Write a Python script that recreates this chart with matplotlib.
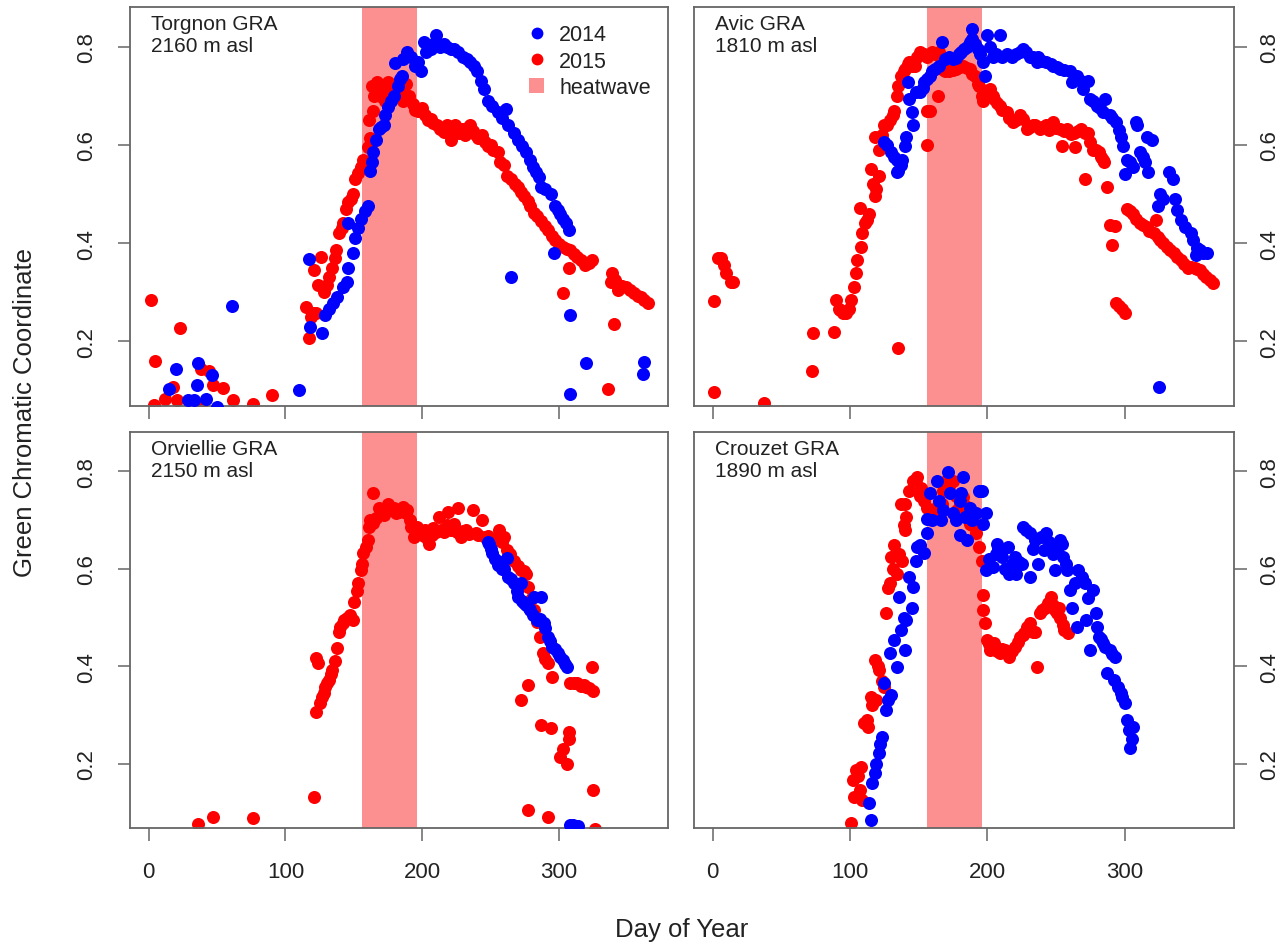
import matplotlib
matplotlib.use('Agg')
import matplotlib.pyplot as plt
import numpy as np
from matplotlib.lines import Line2D
from matplotlib.patches import Patch

plt.rcParams['font.family'] = ['Liberation Sans', 'DejaVu Sans']

# heatwave window (day of year)
heat_start, heat_end = 156, 196

sites = ['Torgnon GRA', 'Avic GRA', 'Orviellie GRA', 'Crouzet GRA']
elevations = ['2160 m asl', '1810 m asl', '2150 m asl', '1890 m asl']

x_ticks = [0, 100, 200, 300]
y_ticks = [0.2, 0.4, 0.6, 0.8]

# (day of year, GCC) pairs
torgnon_2014 = [
    (15, 0.103), (20, 0.144), (29, 0.080), (33, 0.080), (35, 0.110), (36, 0.155),
    (42, 0.083), (46, 0.132), (50, 0.066), (61, 0.271), (110, 0.100), (117, 0.368),
    (118, 0.228), (127, 0.216), (129, 0.253), (132, 0.265), (135, 0.277), (138, 0.290),
    (142, 0.310), (145, 0.320), (146, 0.350), (146, 0.440), (149, 0.380), (151, 0.410),
    (153, 0.430), (155, 0.450), (158, 0.465), (160, 0.475), (162, 0.546), (163, 0.565),
    (164, 0.585), (166, 0.610), (168, 0.632), (170, 0.636), (172, 0.640), (173, 0.660),
    (175, 0.677), (177, 0.690), (179, 0.700), (180, 0.766), (182, 0.720), (184, 0.735),
    (185, 0.740), (186, 0.775), (189, 0.790), (192, 0.780), (195, 0.760), (197, 0.770),
    (199, 0.750), (201, 0.810), (203, 0.790), (206, 0.796), (208, 0.805), (210, 0.823),
    (213, 0.800), (216, 0.805), (218, 0.800), (221, 0.795), (223, 0.796), (226, 0.790),
    (230, 0.780), (233, 0.775), (235, 0.770), (238, 0.760), (240, 0.750), (243, 0.730),
    (245, 0.714), (248, 0.690), (251, 0.680), (255, 0.667), (258, 0.655), (261, 0.673),
    (263, 0.640), (265, 0.330), (267, 0.625), (270, 0.610), (273, 0.598), (276, 0.585),
    (279, 0.570), (281, 0.556), (283, 0.545), (285, 0.535), (287, 0.515), (290, 0.510),
    (294, 0.500), (296, 0.380), (297, 0.475), (299, 0.468), (301, 0.460), (303, 0.450),
    (305, 0.440), (307, 0.427), (308, 0.253), (308, 0.093), (320, 0.155), (361, 0.134),
    (362, 0.157),
]
torgnon_2015 = [
    (2, 0.285), (4, 0.070), (5, 0.160), (12, 0.083), (18, 0.107), (21, 0.080),
    (23, 0.226), (38, 0.144), (38, 0.066), (44, 0.140), (47, 0.110), (54, 0.105),
    (62, 0.080), (76, 0.073), (90, 0.090), (115, 0.270), (117, 0.206), (119, 0.250),
    (120, 0.257), (121, 0.345), (122, 0.257), (124, 0.315), (126, 0.372), (128, 0.300),
    (130, 0.315), (132, 0.330), (134, 0.350), (136, 0.370), (137, 0.386), (139, 0.420),
    (141, 0.430), (142, 0.440), (144, 0.470), (146, 0.484), (148, 0.490), (149, 0.500),
    (151, 0.530), (153, 0.543), (155, 0.555), (157, 0.570), (160, 0.595), (161, 0.650),
    (162, 0.615), (163, 0.720), (164, 0.670), (165, 0.700), (167, 0.728), (169, 0.700),
    (171, 0.714), (173, 0.690), (175, 0.728), (177, 0.700), (179, 0.720), (182, 0.705),
    (184, 0.710), (186, 0.690), (188, 0.724), (190, 0.700), (193, 0.683), (195, 0.672),
    (197, 0.670), (200, 0.675), (202, 0.660), (204, 0.650), (206, 0.652), (208, 0.645),
    (211, 0.640), (213, 0.632), (216, 0.626), (218, 0.640), (221, 0.610), (222, 0.620),
    (224, 0.640), (227, 0.625), (229, 0.632), (231, 0.620), (233, 0.635), (235, 0.640),
    (237, 0.628), (239, 0.620), (241, 0.615), (244, 0.620), (246, 0.605), (248, 0.597),
    (250, 0.600), (252, 0.590), (255, 0.585), (257, 0.565), (260, 0.560), (262, 0.536),
    (265, 0.530), (268, 0.520), (270, 0.515), (272, 0.505), (274, 0.495), (277, 0.485),
    (279, 0.475), (282, 0.462), (284, 0.455), (287, 0.445), (290, 0.435), (292, 0.427),
    (295, 0.415), (297, 0.407), (300, 0.398), (303, 0.392), (303, 0.298), (306, 0.388),
    (307, 0.350), (308, 0.386), (311, 0.378), (313, 0.372), (316, 0.365), (319, 0.355),
    (322, 0.360), (324, 0.365), (336, 0.103), (338, 0.320), (339, 0.340), (340, 0.235),
    (341, 0.325), (343, 0.304), (346, 0.312), (349, 0.310), (352, 0.305), (355, 0.298),
    (358, 0.292), (360, 0.290), (362, 0.285), (365, 0.277),
]

avic_2014 = [
    (125, 0.605), (127, 0.600), (130, 0.585), (132, 0.575), (134, 0.570), (134, 0.544),
    (135, 0.546), (137, 0.560), (138, 0.570), (140, 0.597), (141, 0.617), (142, 0.728),
    (143, 0.693), (145, 0.667), (146, 0.640), (148, 0.708), (151, 0.708), (153, 0.715),
    (154, 0.728), (156, 0.735), (158, 0.740), (160, 0.750), (162, 0.755), (165, 0.760),
    (167, 0.810), (169, 0.775), (172, 0.780), (175, 0.775), (177, 0.778), (179, 0.785),
    (181, 0.790), (183, 0.795), (185, 0.800), (187, 0.810), (189, 0.837), (189, 0.816),
    (191, 0.805), (193, 0.796), (195, 0.785), (197, 0.770), (198, 0.740), (200, 0.823),
    (202, 0.800), (204, 0.780), (206, 0.785), (209, 0.823), (211, 0.780), (214, 0.785),
    (218, 0.780), (221, 0.785), (224, 0.790), (226, 0.796), (228, 0.790), (231, 0.780),
    (233, 0.780), (236, 0.770), (237, 0.780), (240, 0.772), (243, 0.770), (246, 0.765),
    (248, 0.760), (251, 0.758), (253, 0.755), (256, 0.752), (260, 0.750), (262, 0.728),
    (265, 0.740), (268, 0.730), (270, 0.714), (273, 0.730), (275, 0.694), (277, 0.690),
    (280, 0.680), (282, 0.675), (284, 0.667), (286, 0.694), (289, 0.660), (291, 0.655),
    (294, 0.646), (296, 0.630), (297, 0.617), (299, 0.597), (300, 0.540), (302, 0.570),
    (304, 0.565), (306, 0.556), (308, 0.646), (309, 0.640), (311, 0.585), (313, 0.575),
    (315, 0.565), (316, 0.617), (317, 0.544), (320, 0.610), (324, 0.475), (325, 0.107),
    (326, 0.500), (328, 0.490), (332, 0.544), (335, 0.530), (337, 0.490), (338, 0.467),
    (341, 0.447), (344, 0.433), (348, 0.420), (350, 0.407), (352, 0.375), (353, 0.390),
    (355, 0.385), (357, 0.380), (360, 0.380),
]
avic_2015 = [
    (1, 0.097), (1, 0.282), (4, 0.370), (6, 0.370), (8, 0.355), (10, 0.340),
    (13, 0.320), (15, 0.320), (37, 0.075), (72, 0.140), (73, 0.216), (88, 0.218),
    (90, 0.284), (92, 0.265), (93, 0.263), (95, 0.258), (97, 0.257), (99, 0.265),
    (101, 0.284), (103, 0.310), (104, 0.340), (105, 0.365), (107, 0.472), (108, 0.392),
    (109, 0.420), (111, 0.440), (112, 0.447), (114, 0.460), (115, 0.550), (117, 0.520),
    (118, 0.495), (118, 0.617), (119, 0.510), (121, 0.536), (121, 0.590), (123, 0.620),
    (125, 0.640), (127, 0.640), (129, 0.650), (131, 0.660), (132, 0.670), (134, 0.700),
    (135, 0.720), (135, 0.187), (137, 0.740), (139, 0.750), (140, 0.755), (142, 0.765),
    (143, 0.770), (145, 0.760), (147, 0.760), (149, 0.780), (151, 0.790), (154, 0.785),
    (156, 0.780), (156, 0.670), (156, 0.600), (158, 0.670), (160, 0.790), (162, 0.785),
    (164, 0.700), (165, 0.790), (167, 0.755), (169, 0.750), (172, 0.750), (175, 0.752),
    (177, 0.755), (180, 0.758), (182, 0.760), (185, 0.757), (187, 0.755), (189, 0.745),
    (191, 0.740), (193, 0.725), (194, 0.720), (196, 0.700), (197, 0.690), (199, 0.705),
    (202, 0.714), (204, 0.700), (205, 0.694), (207, 0.685), (209, 0.680), (211, 0.672),
    (214, 0.667), (216, 0.655), (219, 0.646), (221, 0.650), (224, 0.660), (226, 0.652),
    (229, 0.632), (231, 0.636), (233, 0.640), (235, 0.640), (238, 0.632), (240, 0.636),
    (243, 0.640), (245, 0.630), (248, 0.646), (250, 0.635), (253, 0.632), (254, 0.597),
    (256, 0.628), (258, 0.632), (261, 0.622), (263, 0.625), (264, 0.595), (266, 0.628),
    (268, 0.632), (271, 0.530), (271, 0.625), (273, 0.625), (275, 0.605), (277, 0.590),
    (279, 0.590), (281, 0.585), (283, 0.575), (284, 0.570), (285, 0.565), (287, 0.515),
    (289, 0.437), (291, 0.396), (293, 0.435), (294, 0.277), (296, 0.272), (298, 0.265),
    (300, 0.257), (302, 0.470), (304, 0.465), (306, 0.460), (308, 0.450), (311, 0.440),
    (313, 0.437), (316, 0.433), (318, 0.425), (321, 0.420), (323, 0.447), (324, 0.412),
    (326, 0.407), (328, 0.400), (331, 0.392), (333, 0.386), (336, 0.380), (338, 0.372),
    (341, 0.365), (343, 0.358), (346, 0.350), (348, 0.352), (351, 0.350), (353, 0.347),
    (355, 0.345), (357, 0.337), (359, 0.330), (362, 0.325), (364, 0.318),
]

orviellie_2014 = [
    (248, 0.655), (249, 0.652), (250, 0.640), (251, 0.632), (253, 0.620), (255, 0.607),
    (257, 0.615), (258, 0.600), (260, 0.600), (262, 0.622), (263, 0.583), (265, 0.580),
    (267, 0.570), (269, 0.555), (270, 0.542), (272, 0.570), (273, 0.535), (274, 0.530),
    (276, 0.525), (278, 0.520), (279, 0.515), (281, 0.505), (282, 0.542), (284, 0.495),
    (286, 0.498), (287, 0.542), (289, 0.488), (290, 0.478), (292, 0.460), (293, 0.452),
    (295, 0.440), (297, 0.435), (299, 0.427), (301, 0.420), (303, 0.413), (304, 0.405),
    (306, 0.398), (308, 0.075), (310, 0.075), (312, 0.073), (314, 0.072),
]
orviellie_2015 = [
    (36, 0.077), (47, 0.090), (76, 0.089), (121, 0.132), (122, 0.306), (122, 0.417),
    (124, 0.407), (125, 0.325), (127, 0.337), (128, 0.345), (129, 0.357), (130, 0.365),
    (132, 0.372), (133, 0.385), (134, 0.392), (136, 0.410), (138, 0.437), (139, 0.470),
    (140, 0.480), (142, 0.488), (143, 0.495), (145, 0.500), (147, 0.505), (149, 0.495),
    (150, 0.532), (152, 0.555), (153, 0.570), (155, 0.597), (156, 0.610), (157, 0.632),
    (159, 0.645), (160, 0.659), (161, 0.685), (162, 0.700), (164, 0.755), (164, 0.695),
    (166, 0.705), (168, 0.724), (170, 0.715), (172, 0.710), (174, 0.725), (175, 0.734),
    (177, 0.720), (179, 0.724), (181, 0.715), (183, 0.716), (185, 0.720), (186, 0.726),
    (188, 0.715), (189, 0.720), (191, 0.700), (192, 0.685), (194, 0.665), (196, 0.685),
    (197, 0.672), (199, 0.673), (201, 0.668), (202, 0.680), (204, 0.660), (205, 0.652),
    (207, 0.670), (208, 0.683), (210, 0.675), (212, 0.706), (214, 0.680), (216, 0.675),
    (218, 0.690), (219, 0.716), (221, 0.680), (223, 0.693), (225, 0.675), (226, 0.724),
    (228, 0.665), (230, 0.678), (232, 0.680), (234, 0.672), (237, 0.720), (239, 0.673),
    (241, 0.670), (244, 0.700), (246, 0.665), (248, 0.668), (250, 0.662), (253, 0.660),
    (256, 0.680), (258, 0.655), (260, 0.665), (262, 0.638), (264, 0.630), (267, 0.617),
    (270, 0.605), (272, 0.597), (272, 0.330), (274, 0.595), (276, 0.590), (277, 0.562),
    (277, 0.362), (277, 0.105), (280, 0.540), (282, 0.515), (284, 0.490), (286, 0.460),
    (287, 0.280), (288, 0.427), (290, 0.415), (292, 0.407), (292, 0.090), (294, 0.273),
    (295, 0.378), (301, 0.214), (303, 0.230), (306, 0.200), (307, 0.265), (307, 0.250),
    (308, 0.365), (311, 0.365), (313, 0.365), (316, 0.360), (318, 0.362), (320, 0.358),
    (322, 0.355), (324, 0.398), (325, 0.146), (325, 0.350), (326, 0.066),
]

crouzet_2014 = [
    (114, 0.120), (115, 0.085), (116, 0.160), (118, 0.180), (119, 0.200), (121, 0.222),
    (122, 0.240), (123, 0.255), (125, 0.366), (126, 0.310), (128, 0.330), (129, 0.427),
    (130, 0.340), (132, 0.454), (134, 0.398), (136, 0.542), (137, 0.474), (139, 0.500),
    (140, 0.433), (141, 0.495), (143, 0.583), (145, 0.520), (146, 0.562), (148, 0.617),
    (149, 0.644), (151, 0.650), (154, 0.632), (156, 0.673), (156, 0.703), (158, 0.755),
    (160, 0.700), (163, 0.780), (165, 0.740), (166, 0.700), (168, 0.720), (171, 0.798),
    (173, 0.755), (175, 0.714), (177, 0.700), (180, 0.740), (180, 0.670), (181, 0.755),
    (182, 0.788), (184, 0.706), (185, 0.660), (187, 0.724), (189, 0.700), (192, 0.714),
    (194, 0.760), (196, 0.760), (197, 0.693), (199, 0.714), (199, 0.597), (201, 0.620),
    (204, 0.604), (206, 0.630), (207, 0.652), (208, 0.640), (211, 0.624), (213, 0.600),
    (215, 0.644), (216, 0.590), (218, 0.610), (220, 0.624), (221, 0.590), (223, 0.615),
    (225, 0.610), (226, 0.685), (228, 0.680), (231, 0.673), (231, 0.583), (233, 0.640),
    (235, 0.659), (237, 0.610), (239, 0.665), (241, 0.638), (243, 0.673), (245, 0.655),
    (246, 0.644), (248, 0.630), (249, 0.597), (251, 0.638), (253, 0.660), (254, 0.652),
    (255, 0.624), (257, 0.610), (258, 0.597), (260, 0.556), (262, 0.520), (264, 0.570),
    (265, 0.480), (266, 0.597), (269, 0.583), (271, 0.570), (272, 0.495), (273, 0.540),
    (275, 0.433), (277, 0.556), (279, 0.510), (280, 0.480), (281, 0.460), (283, 0.455),
    (284, 0.447), (286, 0.440), (287, 0.386), (289, 0.433), (291, 0.425), (292, 0.372),
    (293, 0.420), (295, 0.357), (297, 0.345), (298, 0.337), (300, 0.325), (302, 0.290),
    (303, 0.270), (304, 0.233), (305, 0.250), (306, 0.276),
]
crouzet_2015 = [
    (101, 0.079), (102, 0.167), (103, 0.132), (104, 0.187), (106, 0.175), (107, 0.146),
    (108, 0.194), (109, 0.126), (110, 0.284), (112, 0.290), (113, 0.275), (115, 0.337),
    (116, 0.320), (118, 0.413), (119, 0.330), (120, 0.400), (121, 0.392), (123, 0.370),
    (125, 0.357), (126, 0.509), (128, 0.560), (129, 0.570), (130, 0.624), (131, 0.600),
    (132, 0.648), (134, 0.590), (136, 0.630), (137, 0.734), (138, 0.617), (139, 0.690),
    (140, 0.679), (140, 0.734), (141, 0.706), (143, 0.760), (146, 0.780), (148, 0.785),
    (149, 0.788), (151, 0.750), (152, 0.767), (154, 0.740), (156, 0.725), (158, 0.714),
    (160, 0.720), (163, 0.726), (165, 0.715), (167, 0.734), (168, 0.760), (170, 0.780),
    (172, 0.770), (175, 0.780), (177, 0.750), (178, 0.720), (180, 0.735), (182, 0.747),
    (184, 0.730), (185, 0.726), (187, 0.693), (189, 0.690), (192, 0.673), (194, 0.644),
    (196, 0.617), (197, 0.546), (197, 0.515), (198, 0.488), (200, 0.454), (201, 0.445),
    (202, 0.433), (204, 0.440), (205, 0.447), (207, 0.432), (209, 0.427), (211, 0.435),
    (213, 0.433), (215, 0.428), (216, 0.420), (218, 0.432), (220, 0.440), (222, 0.450),
    (224, 0.460), (226, 0.465), (227, 0.468), (229, 0.480), (231, 0.488), (233, 0.470),
    (235, 0.470), (236, 0.398), (238, 0.509), (240, 0.515), (242, 0.520), (244, 0.530),
    (246, 0.542), (248, 0.525), (249, 0.515), (251, 0.510), (252, 0.520), (253, 0.500),
    (255, 0.485), (256, 0.474), (259, 0.468),
]

series_2014 = [torgnon_2014, avic_2014, orviellie_2014, crouzet_2014]
series_2015 = [torgnon_2015, avic_2015, orviellie_2015, crouzet_2015]

heat_color = '#FC8F8F'
box_color = '#666666'
text_color = '#222222'

fig = plt.figure(figsize=(12.81, 9.45), dpi=100)

# [left, bottom, width, height] in figure fractions
positions = [
    [0.1015, 0.5693, 0.420, 0.4222],
    [0.5418, 0.5693, 0.4215, 0.4222],
    [0.1015, 0.1228, 0.420, 0.4190],
    [0.5418, 0.1228, 0.4215, 0.4190],
]

axes = []
for i, pos in enumerate(positions):
    ax = fig.add_axes(pos)
    axes.append(ax)
    ax.axvspan(heat_start, heat_end, color=heat_color, lw=0, zorder=1)

    d15 = np.array(series_2015[i])
    d14 = np.array(series_2014[i])
    ax.scatter(d15[:, 0], d15[:, 1], s=88, color='#FF0000', linewidths=0, zorder=2)
    ax.scatter(d14[:, 0], d14[:, 1], s=88, color='#0000FF', linewidths=0, zorder=3)

    ax.set_xlim(-13.6, 379.6)
    ax.set_ylim(0.068, 0.881)
    ax.set_xticks(x_ticks)
    ax.set_yticks(y_ticks)
    ax.set_yticklabels([f'{v:.1f}' for v in y_ticks])

    for sp in ax.spines.values():
        sp.set_color(box_color)
        sp.set_linewidth(1.3)
    ax.tick_params(direction='out', length=9, width=1.1, color=box_color,
                   pad=15, labelsize=16, labelcolor=text_color)

    if i < 2:
        ax.tick_params(labelbottom=False)
    if i % 2 == 1:
        ax.yaxis.tick_right()
        ax.tick_params(axis='y', left=False, labelleft=False, right=True,
                       labelright=True, pad=9)
    plt.setp(ax.get_yticklabels(), rotation=90, va='center')

    ax.text(0.039, 0.982, sites[i] + '\n' + elevations[i], transform=ax.transAxes,
            ha='left', va='top', fontsize=15, linespacing=1.2, color=text_color)

handles = [
    Line2D([], [], ls='none', marker='o', ms=8.5, color='#0000FF', mew=0),
    Line2D([], [], ls='none', marker='o', ms=8.5, color='#FF0000', mew=0),
    Patch(facecolor=heat_color, edgecolor='none'),
]
axes[0].legend(handles, ['2014', '2015', 'heatwave'], loc='upper right',
               frameon=False, fontsize=15.5, handlelength=0.7, handleheight=0.7,
               handletextpad=0.7, labelspacing=0.25, borderaxespad=0.4,
               labelcolor=text_color)

fig.text(0.0195, 0.564, 'Green Chromatic Coordinate', rotation=90,
         ha='center', va='center', fontsize=18.5, color=text_color)
fig.text(0.532, 0.016, 'Day of Year', ha='center', va='center',
         fontsize=18.5, color=text_color)

fig.savefig('out.png', dpi=100)
